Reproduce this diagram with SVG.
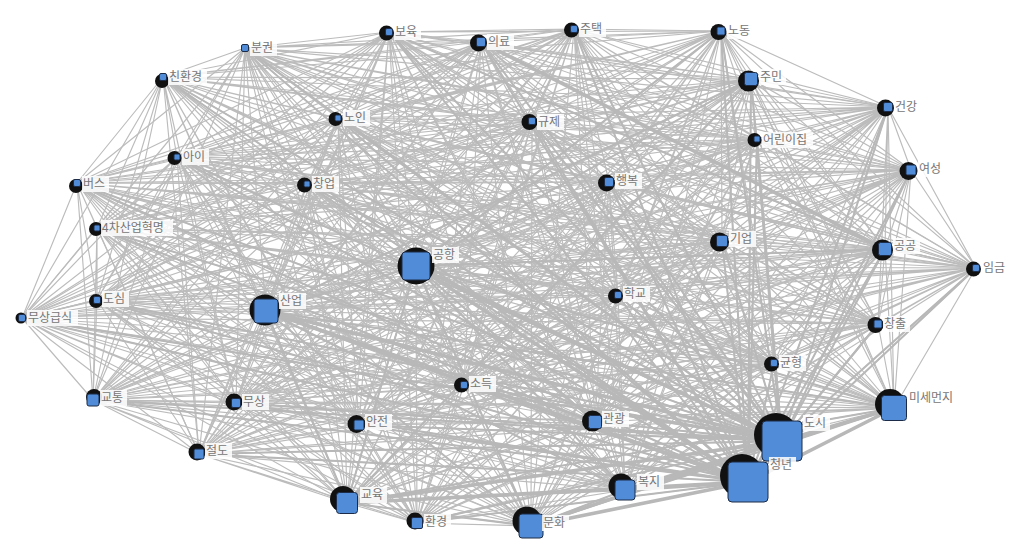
<svg xmlns="http://www.w3.org/2000/svg" width="1024" height="551" viewBox="0 0 1024 551">
<style>
.e{fill:none;stroke:#bcbcbc;stroke-width:1.15}
.e2{fill:none;stroke:#b8b8b8;stroke-width:2}
.e3{fill:none;stroke:#b8b8b8;stroke-width:3.6}
.h{fill:#111}
.n{fill:#508cd7;stroke:#1c2c48;stroke-width:1}
.lb{fill:#fff;fill-opacity:.85}
.t{font-family:"Noto Sans CJK KR","Noto Sans",sans-serif;font-size:12px;fill:#767676}
</style>
<rect width="1024" height="551" fill="#fff"/>
<g id="connectors">
<path class="e" d="M245 48 163 77M245 48 389 32M245 48 481 42M245 48 574 29M245 48 721 31M245 48 751 79M245 48 888 107M245 48 757 139M245 48 911 170M245 48 338 118M245 48 532 121M245 48 177 157M245 48 77 183M245 48 307 184M245 48 609 182M245 48 97 228M245 48 722 241M245 48 885 249M245 48 416 266M245 48 976 268M245 48 618 295M245 48 97 300M245 48 266 311M245 48 22 318M245 48 878 324M245 48 774 363M245 48 464 385M245 48 93 400M245 48 236 403M245 48 894 408M245 48 359 425M245 48 595 422M245 48 782 441M245 48 199 454M245 48 748 482M245 48 625 490M245 48 347 503M245 48 417 523M245 48 531 526"/>
<path class="e" d="M163 77 389 32M163 77 481 42M163 77 574 29M163 77 721 31M163 77 751 79M163 77 888 107M163 77 757 139M163 77 911 170M163 77 338 118M163 77 532 121M163 77 177 157M163 77 77 183M163 77 307 184M163 77 609 182M163 77 97 228M163 77 722 241M163 77 885 249M163 77 416 266M163 77 976 268M163 77 618 295M163 77 97 300M163 77 266 311M163 77 22 318M163 77 878 324M163 77 774 363M163 77 464 385M163 77 93 400M163 77 236 403M163 77 894 408M163 77 359 425M163 77 595 422M163 77 782 441M163 77 199 454M163 77 748 482M163 77 625 490M163 77 347 503M163 77 417 523M163 77 531 526"/>
<path class="e" d="M389 32 481 42M389 32 574 29M389 32 721 31M389 32 751 79M389 32 888 107M389 32 757 139M389 32 911 170M389 32 338 118M389 32 532 121M389 32 177 157M389 32 77 183M389 32 307 184M389 32 609 182M389 32 97 228M389 32 722 241M389 32 885 249M389 32 416 266M389 32 976 268M389 32 618 295M389 32 97 300M389 32 266 311M389 32 22 318M389 32 878 324M389 32 774 363M389 32 464 385M389 32 93 400M389 32 236 403M389 32 894 408M389 32 359 425M389 32 595 422M389 32 782 441M389 32 199 454M389 32 748 482M389 32 625 490M389 32 347 503M389 32 417 523M389 32 531 526"/>
<path class="e" d="M481 42 574 29M481 42 721 31M481 42 751 79M481 42 888 107M481 42 757 139M481 42 911 170M481 42 338 118M481 42 532 121M481 42 177 157M481 42 77 183M481 42 307 184M481 42 609 182M481 42 97 228M481 42 722 241M481 42 885 249M481 42 416 266M481 42 976 268M481 42 618 295M481 42 97 300M481 42 266 311M481 42 22 318M481 42 878 324M481 42 774 363M481 42 464 385M481 42 93 400M481 42 236 403M481 42 894 408M481 42 359 425M481 42 595 422M481 42 782 441M481 42 199 454M481 42 748 482M481 42 625 490M481 42 347 503M481 42 417 523M481 42 531 526"/>
<path class="e" d="M574 29 721 31M574 29 751 79M574 29 888 107M574 29 757 139M574 29 911 170M574 29 338 118M574 29 532 121M574 29 177 157M574 29 77 183M574 29 307 184M574 29 609 182M574 29 97 228M574 29 722 241M574 29 885 249M574 29 416 266M574 29 976 268M574 29 618 295M574 29 97 300M574 29 266 311M574 29 22 318M574 29 878 324M574 29 774 363M574 29 464 385M574 29 93 400M574 29 236 403M574 29 894 408M574 29 359 425M574 29 595 422M574 29 782 441M574 29 199 454M574 29 748 482M574 29 625 490M574 29 347 503M574 29 417 523M574 29 531 526"/>
<path class="e" d="M721 31 751 79M721 31 888 107M721 31 757 139M721 31 911 170M721 31 338 118M721 31 532 121M721 31 177 157M721 31 77 183M721 31 307 184M721 31 609 182M721 31 97 228M721 31 722 241M721 31 885 249M721 31 416 266M721 31 976 268M721 31 618 295M721 31 97 300M721 31 266 311M721 31 22 318M721 31 878 324M721 31 774 363M721 31 464 385M721 31 93 400M721 31 236 403M721 31 894 408M721 31 359 425M721 31 595 422M721 31 782 441M721 31 199 454M721 31 748 482M721 31 625 490M721 31 347 503M721 31 417 523M721 31 531 526"/>
<path class="e" d="M751 79 888 107M751 79 757 139M751 79 911 170M751 79 338 118M751 79 532 121M751 79 177 157M751 79 77 183M751 79 307 184M751 79 609 182M751 79 97 228M751 79 722 241M751 79 885 249M751 79 416 266M751 79 976 268M751 79 618 295M751 79 97 300M751 79 266 311M751 79 22 318M751 79 878 324M751 79 774 363M751 79 464 385M751 79 93 400M751 79 236 403M751 79 894 408M751 79 359 425M751 79 595 422M751 79 782 441M751 79 199 454M751 79 748 482M751 79 625 490M751 79 347 503M751 79 417 523M751 79 531 526"/>
<path class="e" d="M888 107 757 139M888 107 911 170M888 107 338 118M888 107 532 121M888 107 177 157M888 107 77 183M888 107 307 184M888 107 609 182M888 107 97 228M888 107 722 241M888 107 885 249M888 107 416 266M888 107 976 268M888 107 618 295M888 107 97 300M888 107 266 311M888 107 22 318M888 107 878 324M888 107 774 363M888 107 464 385M888 107 93 400M888 107 236 403M888 107 894 408M888 107 359 425M888 107 595 422M888 107 782 441M888 107 199 454M888 107 748 482M888 107 625 490M888 107 347 503M888 107 417 523M888 107 531 526"/>
<path class="e" d="M757 139 911 170M757 139 338 118M757 139 532 121M757 139 177 157M757 139 77 183M757 139 307 184M757 139 609 182M757 139 97 228M757 139 722 241M757 139 885 249M757 139 416 266M757 139 976 268M757 139 618 295M757 139 97 300M757 139 266 311M757 139 22 318M757 139 878 324M757 139 774 363M757 139 464 385M757 139 93 400M757 139 236 403M757 139 894 408M757 139 359 425M757 139 595 422M757 139 782 441M757 139 199 454M757 139 748 482M757 139 625 490M757 139 347 503M757 139 417 523M757 139 531 526"/>
<path class="e" d="M911 170 338 118M911 170 532 121M911 170 177 157M911 170 77 183M911 170 307 184M911 170 609 182M911 170 97 228M911 170 722 241M911 170 885 249M911 170 416 266M911 170 976 268M911 170 618 295M911 170 97 300M911 170 266 311M911 170 22 318M911 170 878 324M911 170 774 363M911 170 464 385M911 170 93 400M911 170 236 403M911 170 894 408M911 170 359 425M911 170 595 422M911 170 782 441M911 170 199 454M911 170 748 482M911 170 625 490M911 170 347 503M911 170 417 523M911 170 531 526"/>
<path class="e" d="M338 118 532 121M338 118 177 157M338 118 77 183M338 118 307 184M338 118 609 182M338 118 97 228M338 118 722 241M338 118 885 249M338 118 416 266M338 118 976 268M338 118 618 295M338 118 97 300M338 118 266 311M338 118 22 318M338 118 878 324M338 118 774 363M338 118 464 385M338 118 93 400M338 118 236 403M338 118 894 408M338 118 359 425M338 118 595 422M338 118 782 441M338 118 199 454M338 118 748 482M338 118 625 490M338 118 347 503M338 118 417 523M338 118 531 526"/>
<path class="e" d="M532 121 177 157M532 121 77 183M532 121 307 184M532 121 609 182M532 121 97 228M532 121 722 241M532 121 885 249M532 121 416 266M532 121 976 268M532 121 618 295M532 121 97 300M532 121 266 311M532 121 22 318M532 121 878 324M532 121 774 363M532 121 464 385M532 121 93 400M532 121 236 403M532 121 894 408M532 121 359 425M532 121 595 422M532 121 782 441M532 121 199 454M532 121 748 482M532 121 625 490M532 121 347 503M532 121 417 523M532 121 531 526"/>
<path class="e" d="M177 157 77 183M177 157 307 184M177 157 609 182M177 157 97 228M177 157 722 241M177 157 885 249M177 157 416 266M177 157 976 268M177 157 618 295M177 157 97 300M177 157 266 311M177 157 22 318M177 157 878 324M177 157 774 363M177 157 464 385M177 157 93 400M177 157 236 403M177 157 894 408M177 157 359 425M177 157 595 422M177 157 782 441M177 157 199 454M177 157 748 482M177 157 625 490M177 157 347 503M177 157 417 523M177 157 531 526"/>
<path class="e" d="M77 183 307 184M77 183 609 182M77 183 97 228M77 183 722 241M77 183 885 249M77 183 416 266M77 183 976 268M77 183 618 295M77 183 97 300M77 183 266 311M77 183 22 318M77 183 878 324M77 183 774 363M77 183 464 385M77 183 93 400M77 183 236 403M77 183 894 408M77 183 359 425M77 183 595 422M77 183 782 441M77 183 199 454M77 183 748 482M77 183 625 490M77 183 347 503M77 183 417 523M77 183 531 526"/>
<path class="e" d="M307 184 609 182M307 184 97 228M307 184 722 241M307 184 885 249M307 184 416 266M307 184 976 268M307 184 618 295M307 184 97 300M307 184 266 311M307 184 22 318M307 184 878 324M307 184 774 363M307 184 464 385M307 184 93 400M307 184 236 403M307 184 894 408M307 184 359 425M307 184 595 422M307 184 782 441M307 184 199 454M307 184 748 482M307 184 625 490M307 184 347 503M307 184 417 523M307 184 531 526"/>
<path class="e" d="M609 182 97 228M609 182 722 241M609 182 885 249M609 182 416 266M609 182 976 268M609 182 618 295M609 182 97 300M609 182 266 311M609 182 22 318M609 182 878 324M609 182 774 363M609 182 464 385M609 182 93 400M609 182 236 403M609 182 894 408M609 182 359 425M609 182 595 422M609 182 782 441M609 182 199 454M609 182 748 482M609 182 625 490M609 182 347 503M609 182 417 523M609 182 531 526"/>
<path class="e" d="M97 228 722 241M97 228 885 249M97 228 416 266M97 228 976 268M97 228 618 295M97 228 97 300M97 228 266 311M97 228 22 318M97 228 878 324M97 228 774 363M97 228 464 385M97 228 93 400M97 228 236 403M97 228 894 408M97 228 359 425M97 228 595 422M97 228 782 441M97 228 199 454M97 228 748 482M97 228 625 490M97 228 347 503M97 228 417 523M97 228 531 526"/>
<path class="e" d="M722 241 885 249M722 241 416 266M722 241 976 268M722 241 618 295M722 241 97 300M722 241 266 311M722 241 22 318M722 241 878 324M722 241 774 363M722 241 464 385M722 241 93 400M722 241 236 403M722 241 894 408M722 241 359 425M722 241 595 422M722 241 782 441M722 241 199 454M722 241 748 482M722 241 625 490M722 241 347 503M722 241 417 523M722 241 531 526"/>
<path class="e" d="M885 249 416 266M885 249 976 268M885 249 618 295M885 249 97 300M885 249 266 311M885 249 22 318M885 249 878 324M885 249 774 363M885 249 464 385M885 249 93 400M885 249 236 403M885 249 894 408M885 249 359 425M885 249 595 422M885 249 782 441M885 249 199 454M885 249 748 482M885 249 625 490M885 249 347 503M885 249 417 523M885 249 531 526"/>
<path class="e" d="M416 266 976 268M416 266 618 295M416 266 97 300M416 266 266 311M416 266 22 318M416 266 878 324M416 266 774 363M416 266 464 385M416 266 93 400M416 266 236 403M416 266 894 408M416 266 359 425M416 266 595 422M416 266 782 441M416 266 199 454M416 266 748 482M416 266 625 490M416 266 347 503M416 266 417 523M416 266 531 526"/>
<path class="e" d="M976 268 618 295M976 268 97 300M976 268 266 311M976 268 22 318M976 268 878 324M976 268 774 363M976 268 464 385M976 268 93 400M976 268 236 403M976 268 894 408M976 268 359 425M976 268 595 422M976 268 782 441M976 268 199 454M976 268 748 482M976 268 625 490M976 268 347 503M976 268 417 523M976 268 531 526"/>
<path class="e" d="M618 295 97 300M618 295 266 311M618 295 22 318M618 295 878 324M618 295 774 363M618 295 464 385M618 295 93 400M618 295 236 403M618 295 894 408M618 295 359 425M618 295 595 422M618 295 782 441M618 295 199 454M618 295 748 482M618 295 625 490M618 295 347 503M618 295 417 523M618 295 531 526"/>
<path class="e" d="M97 300 266 311M97 300 22 318M97 300 878 324M97 300 774 363M97 300 464 385M97 300 93 400M97 300 236 403M97 300 894 408M97 300 359 425M97 300 595 422M97 300 782 441M97 300 199 454M97 300 748 482M97 300 625 490M97 300 347 503M97 300 417 523M97 300 531 526"/>
<path class="e" d="M266 311 22 318M266 311 878 324M266 311 774 363M266 311 464 385M266 311 93 400M266 311 236 403M266 311 894 408M266 311 359 425M266 311 595 422M266 311 782 441M266 311 199 454M266 311 748 482M266 311 625 490M266 311 347 503M266 311 417 523M266 311 531 526"/>
<path class="e" d="M22 318 878 324M22 318 774 363M22 318 464 385M22 318 93 400M22 318 236 403M22 318 894 408M22 318 359 425M22 318 595 422M22 318 782 441M22 318 199 454M22 318 748 482M22 318 625 490M22 318 347 503M22 318 417 523M22 318 531 526"/>
<path class="e" d="M878 324 774 363M878 324 464 385M878 324 93 400M878 324 236 403M878 324 894 408M878 324 359 425M878 324 595 422M878 324 782 441M878 324 199 454M878 324 748 482M878 324 625 490M878 324 347 503M878 324 417 523M878 324 531 526"/>
<path class="e" d="M774 363 464 385M774 363 93 400M774 363 236 403M774 363 894 408M774 363 359 425M774 363 595 422M774 363 782 441M774 363 199 454M774 363 748 482M774 363 625 490M774 363 347 503M774 363 417 523M774 363 531 526"/>
<path class="e" d="M464 385 93 400M464 385 236 403M464 385 894 408M464 385 359 425M464 385 595 422M464 385 782 441M464 385 199 454M464 385 748 482M464 385 625 490M464 385 347 503M464 385 417 523M464 385 531 526"/>
<path class="e" d="M93 400 236 403M93 400 894 408M93 400 359 425M93 400 595 422M93 400 782 441M93 400 199 454M93 400 748 482M93 400 625 490M93 400 347 503M93 400 417 523M93 400 531 526"/>
<path class="e" d="M236 403 894 408M236 403 359 425M236 403 595 422M236 403 782 441M236 403 199 454M236 403 748 482M236 403 625 490M236 403 347 503M236 403 417 523M236 403 531 526"/>
<path class="e" d="M894 408 359 425M894 408 595 422M894 408 782 441M894 408 199 454M894 408 748 482M894 408 625 490M894 408 347 503M894 408 417 523M894 408 531 526"/>
<path class="e" d="M359 425 595 422M359 425 782 441M359 425 199 454M359 425 748 482M359 425 625 490M359 425 347 503M359 425 417 523M359 425 531 526"/>
<path class="e" d="M595 422 782 441M595 422 199 454M595 422 748 482M595 422 625 490M595 422 347 503M595 422 417 523M595 422 531 526"/>
<path class="e" d="M782 441 199 454M782 441 748 482M782 441 625 490M782 441 347 503M782 441 417 523M782 441 531 526"/>
<path class="e" d="M199 454 748 482M199 454 625 490M199 454 347 503M199 454 417 523M199 454 531 526"/>
<path class="e" d="M748 482 625 490M748 482 347 503M748 482 417 523M748 482 531 526M625 490 347 503M625 490 417 523M625 490 531 526M347 503 417 523M347 503 531 526M417 523 531 526"/>
<path class="e2" d="M748 482 245 48M748 482 163 77M748 482 389 32M748 482 481 42M748 482 574 29M748 482 721 31M748 482 751 79M748 482 888 107M748 482 757 139M748 482 911 170M748 482 338 118M748 482 532 121M748 482 177 157M748 482 77 183M748 482 307 184M748 482 609 182M748 482 97 228M748 482 722 241M748 482 885 249M748 482 976 268M748 482 618 295M748 482 97 300M748 482 22 318M748 482 878 324M748 482 774 363M748 482 464 385M748 482 93 400M748 482 236 403M748 482 359 425M748 482 595 422M748 482 199 454M748 482 417 523"/>
<path class="e2" d="M782 441 245 48M782 441 163 77M782 441 389 32M782 441 481 42M782 441 574 29M782 441 721 31M782 441 751 79M782 441 888 107M782 441 757 139M782 441 911 170M782 441 338 118M782 441 532 121M782 441 177 157M782 441 77 183M782 441 307 184M782 441 609 182M782 441 97 228M782 441 722 241M782 441 885 249M782 441 976 268M782 441 618 295M782 441 97 300M782 441 22 318M782 441 878 324M782 441 774 363M782 441 464 385M782 441 93 400M782 441 236 403M782 441 359 425M782 441 595 422M782 441 199 454M782 441 417 523"/>
<path class="e2" d="M416 266 266 311M416 266 894 408M416 266 531 526M416 266 347 503M416 266 625 490M266 311 894 408M266 311 531 526M266 311 347 503M266 311 625 490M894 408 531 526M894 408 347 503M894 408 625 490M531 526 347 503M531 526 625 490M347 503 625 490M416 266 751 79M416 266 885 249M751 79 266 311M751 79 347 503M389 32 885 249M416 266 721 31M595 422 266 311M595 422 416 266"/>
<path class="e3" d="M748 482 782 441M748 482 416 266M782 441 416 266M748 482 266 311M782 441 266 311M748 482 894 408M782 441 894 408M748 482 531 526M782 441 531 526M748 482 347 503M782 441 347 503M748 482 625 490M782 441 625 490M481 42 885 249"/>
</g>
<g id="node-분권"><rect class="n" x="241.5" y="44.5" width="7" height="7" rx="1.5"/><rect class="lb" x="250" y="40" width="27" height="16"/><text class="t" x="251" y="52">분권</text></g>
<g id="node-친환경"><circle class="h" cx="162" cy="81" r="7"/><rect class="n" x="159.5" y="73.5" width="7" height="7" rx="1.5"/><rect class="lb" x="168" y="69" width="39" height="16"/><text class="t" x="169" y="81">친환경</text></g>
<g id="node-보육"><circle class="h" cx="386.5" cy="33" r="7.5"/><rect class="n" x="385.5" y="28.5" width="7" height="7" rx="1.5"/><rect class="lb" x="394" y="24" width="27" height="16"/><text class="t" x="395" y="36">보육</text></g>
<g id="node-의료"><circle class="h" cx="478.5" cy="43" r="8.5"/><rect class="n" x="476.5" y="37.5" width="9" height="9" rx="1.5"/><rect class="lb" x="487" y="34" width="27" height="16"/><text class="t" x="488" y="46">의료</text></g>
<g id="node-주택"><circle class="h" cx="571.5" cy="30" r="7.5"/><rect class="n" x="570.5" y="25.5" width="7" height="7" rx="1.5"/><rect class="lb" x="579" y="21" width="27" height="16"/><text class="t" x="580" y="33">주택</text></g>
<g id="node-노동"><circle class="h" cx="718.5" cy="32" r="8"/><rect class="n" x="717" y="27" width="8" height="8" rx="1.5"/><rect class="lb" x="727" y="23" width="27" height="16"/><text class="t" x="728" y="35">노동</text></g>
<g id="node-주민"><circle class="h" cx="748.5" cy="81" r="10.5"/><rect class="n" x="744.5" y="72.5" width="13" height="13" rx="2"/><rect class="lb" x="759" y="69" width="27" height="16"/><text class="t" x="760" y="81">주민</text></g>
<g id="node-건강"><circle class="h" cx="885.5" cy="108" r="8.5"/><rect class="n" x="883.5" y="102.5" width="9" height="9" rx="1.5"/><rect class="lb" x="894" y="99" width="27" height="16"/><text class="t" x="895" y="111">건강</text></g>
<g id="node-어린이집"><circle class="h" cx="754.5" cy="140" r="7"/><rect class="n" x="754" y="136" width="6" height="6" rx="1.5"/><rect class="lb" x="762" y="132" width="51" height="16"/><text class="t" x="763" y="144">어린이집</text></g>
<g id="node-여성"><circle class="h" cx="908.5" cy="171" r="9"/><rect class="n" x="906" y="165" width="10" height="10" rx="1.5"/><rect class="lb" x="918" y="161" width="27" height="16"/><text class="t" x="919" y="173">여성</text></g>
<g id="node-노인"><circle class="h" cx="335.5" cy="119" r="7"/><rect class="n" x="335" y="115" width="6" height="6" rx="1.5"/><rect class="lb" x="343" y="110" width="27" height="16"/><text class="t" x="344" y="122">노인</text></g>
<g id="node-규제"><circle class="h" cx="529.5" cy="122" r="8"/><rect class="n" x="528.5" y="117.5" width="7" height="7" rx="1.5"/><rect class="lb" x="537" y="114" width="27" height="16"/><text class="t" x="538" y="126">규제</text></g>
<g id="node-아이"><circle class="h" cx="174.5" cy="158" r="7"/><rect class="n" x="174" y="154" width="6" height="6" rx="1.5"/><rect class="lb" x="182" y="149" width="27" height="16"/><text class="t" x="183" y="161">아이</text></g>
<g id="node-버스"><circle class="h" cx="76" cy="186" r="7"/><rect class="n" x="73.5" y="179.5" width="7" height="7" rx="1.5"/><rect class="lb" x="82" y="176" width="27" height="16"/><text class="t" x="83" y="188">버스</text></g>
<g id="node-창업"><circle class="h" cx="304.5" cy="185" r="7.5"/><rect class="n" x="304" y="181" width="6" height="6" rx="1.5"/><rect class="lb" x="312" y="176" width="27" height="16"/><text class="t" x="313" y="188">창업</text></g>
<g id="node-행복"><circle class="h" cx="606.5" cy="183" r="8.5"/><rect class="n" x="604.5" y="177.5" width="9" height="9" rx="1.5"/><rect class="lb" x="615" y="173" width="27" height="16"/><text class="t" x="616" y="185">행복</text></g>
<g id="node-4차산업혁명"><circle class="h" cx="96" cy="229" r="7"/><rect class="n" x="94" y="225" width="6" height="6" rx="1.5"/><rect class="lb" x="101" y="220" width="72" height="16"/><text class="t" x="102" y="232">4차산업혁명</text></g>
<g id="node-기업"><circle class="h" cx="719.5" cy="242" r="9.5"/><rect class="n" x="716.5" y="235.5" width="11" height="11" rx="1.5"/><rect class="lb" x="729" y="231" width="27" height="16"/><text class="t" x="730" y="243">기업</text></g>
<g id="node-공공"><circle class="h" cx="882.5" cy="250" r="10.5"/><rect class="n" x="878.5" y="242.5" width="13" height="13" rx="2"/><rect class="lb" x="893" y="238" width="27" height="16"/><text class="t" x="894" y="250">공공</text></g>
<g id="node-공항"><circle class="h" cx="416" cy="266" r="18.5"/><rect class="n" x="402" y="252" width="28" height="28" rx="3"/><rect class="lb" x="432" y="247" width="27" height="16"/><text class="t" x="433" y="259">공항</text></g>
<g id="node-임금"><circle class="h" cx="973.5" cy="269" r="7.5"/><rect class="n" x="972.5" y="264.5" width="7" height="7" rx="1.5"/><rect class="lb" x="982" y="260" width="27" height="16"/><text class="t" x="983" y="272">임금</text></g>
<g id="node-학교"><circle class="h" cx="615.5" cy="296" r="7.5"/><rect class="n" x="614.5" y="291.5" width="7" height="7" rx="1.5"/><rect class="lb" x="623" y="286" width="27" height="16"/><text class="t" x="624" y="298">학교</text></g>
<g id="node-도심"><circle class="h" cx="96" cy="301" r="7"/><rect class="n" x="93.5" y="296.5" width="7" height="7" rx="1.5"/><rect class="lb" x="102" y="291" width="27" height="16"/><text class="t" x="103" y="303">도심</text></g>
<g id="node-산업"><circle class="h" cx="265" cy="310" r="15.5"/><rect class="n" x="254" y="299" width="24" height="24" rx="3"/><rect class="lb" x="279" y="293" width="27" height="16"/><text class="t" x="280" y="305">산업</text></g>
<g id="node-무상급식"><circle class="h" cx="21" cy="318" r="5.5"/><rect class="n" x="18.5" y="314.5" width="7" height="7" rx="1.5"/><rect class="lb" x="27" y="310" width="51" height="16"/><text class="t" x="28" y="322">무상급식</text></g>
<g id="node-창출"><circle class="h" cx="875.5" cy="325" r="8"/><rect class="n" x="874" y="320" width="8" height="8" rx="1.5"/><rect class="lb" x="883" y="316" width="27" height="16"/><text class="t" x="884" y="328">창출</text></g>
<g id="node-균형"><circle class="h" cx="771.5" cy="364" r="7.5"/><rect class="n" x="770.5" y="359.5" width="7" height="7" rx="1.5"/><rect class="lb" x="779" y="355" width="27" height="16"/><text class="t" x="780" y="367">균형</text></g>
<g id="node-소득"><circle class="h" cx="461.5" cy="385" r="7.5"/><rect class="n" x="460.5" y="381.5" width="7" height="7" rx="1.5"/><rect class="lb" x="469" y="376" width="27" height="16"/><text class="t" x="470" y="388">소득</text></g>
<g id="node-교통"><circle class="h" cx="94" cy="397" r="8"/><rect class="n" x="87" y="394" width="12" height="12" rx="2"/><rect class="lb" x="100" y="390" width="27" height="16"/><text class="t" x="101" y="402">교통</text></g>
<g id="node-무상"><circle class="h" cx="234" cy="402" r="8.5"/><rect class="n" x="231.5" y="398.5" width="9" height="9" rx="1.5"/><rect class="lb" x="242" y="394" width="27" height="16"/><text class="t" x="243" y="406">무상</text></g>
<g id="node-미세먼지"><circle class="h" cx="890" cy="404" r="15"/><rect class="n" x="881.5" y="395.5" width="25" height="25" rx="3"/><rect class="lb" x="908" y="390" width="51" height="16"/><text class="t" x="909" y="402">미세먼지</text></g>
<g id="node-안전"><circle class="h" cx="356.5" cy="424" r="9"/><rect class="n" x="354" y="420" width="10" height="10" rx="1.5"/><rect class="lb" x="365" y="414" width="27" height="16"/><text class="t" x="366" y="426">안전</text></g>
<g id="node-관광"><circle class="h" cx="592.5" cy="421" r="10.5"/><rect class="n" x="588.5" y="415.5" width="13" height="13" rx="2"/><rect class="lb" x="602" y="411" width="27" height="16"/><text class="t" x="603" y="423">관광</text></g>
<g id="node-도시"><circle class="h" cx="776" cy="435" r="22"/><rect class="n" x="762" y="421" width="40" height="40" rx="4"/><rect class="lb" x="803" y="415" width="27" height="16"/><text class="t" x="804" y="427">도시</text></g>
<g id="node-절도"><circle class="h" cx="197" cy="452" r="8.5"/><rect class="n" x="194" y="449" width="10" height="10" rx="1.5"/><rect class="lb" x="205" y="443" width="27" height="16"/><text class="t" x="206" y="455">절도</text></g>
<g id="node-청년"><circle class="h" cx="742" cy="476" r="22"/><rect class="n" x="728" y="462" width="40" height="40" rx="4"/><rect class="lb" x="769" y="457" width="27" height="16"/><text class="t" x="770" y="469">청년</text></g>
<g id="node-복지"><circle class="h" cx="621" cy="486" r="12.5"/><rect class="n" x="615" y="480" width="20" height="20" rx="3"/><rect class="lb" x="637" y="474" width="27" height="16"/><text class="t" x="638" y="486">복지</text></g>
<g id="node-교육"><circle class="h" cx="343" cy="499" r="13"/><rect class="n" x="336.5" y="492.5" width="21" height="21" rx="3"/><rect class="lb" x="360" y="487" width="27" height="16"/><text class="t" x="361" y="499">교육</text></g>
<g id="node-환경"><circle class="h" cx="415" cy="521" r="8.5"/><rect class="n" x="411.5" y="517.5" width="11" height="11" rx="1.5"/><rect class="lb" x="424" y="514" width="27" height="16"/><text class="t" x="425" y="526">환경</text></g>
<g id="node-문화"><circle class="h" cx="527" cy="521" r="14.5"/><rect class="n" x="519" y="514" width="24" height="24" rx="3"/><rect class="lb" x="542" y="515" width="27" height="16"/><text class="t" x="543" y="527">문화</text></g>
</svg>
